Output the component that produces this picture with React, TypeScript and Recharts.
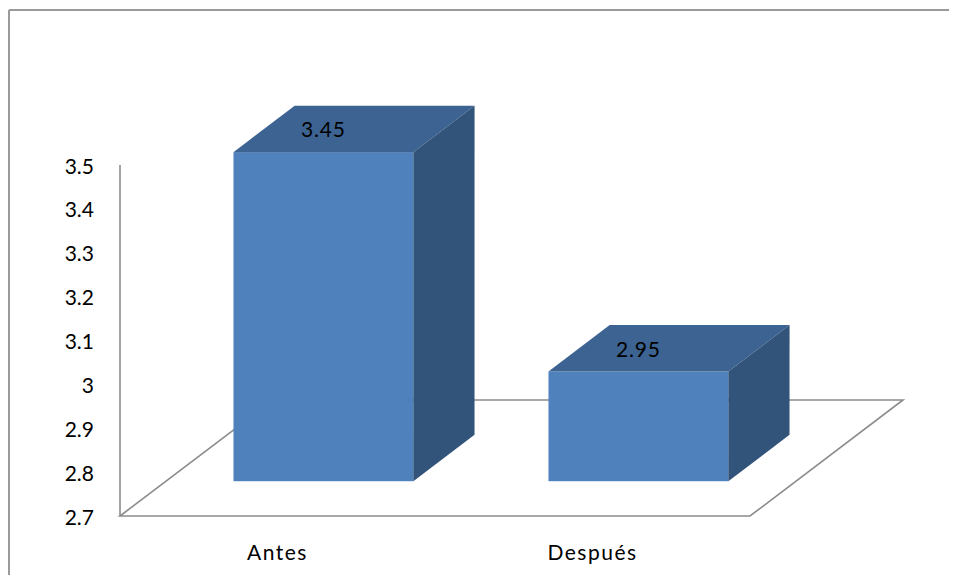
import React from 'react'
import { BarChart, Bar, XAxis, YAxis } from 'recharts'

const CATEGORIES = ['Antes', 'Después']
const VALUES = [3.45, 2.95]
const Y_TICKS = [2.7, 2.8, 2.9, 3.0, 3.1, 3.2, 3.3, 3.4, 3.5]

const data = CATEGORIES.map((name, i) => ({ name, value: VALUES[i] }))

// depth of the 3D floor, in px
const DX = 153
const DY = 116
const FRONT = 0.3 // where the bar front face sits in the floor depth
const BAR_DEPTH = 0.4
const BAR_FRAC = 0.571 // box width as part of the category band

const FONT = 'Lato, "Open Sans", sans-serif'
const AXIS_GRAY = '#8c8c8c'

const Box3D = (props: any) => {
  const { x, y, width, height, value, index, background } = props
  const w = width * BAR_FRAC
  const fx = x + (width - w) / 2 + FRONT * DX
  const fy = y - FRONT * DY
  const fb = y + height - FRONT * DY
  const bx = BAR_DEPTH * DX
  const by = BAR_DEPTH * DY

  // floor drawn once, under the first bar, from the band background
  let floor = null
  if (index === 0 && background) {
    const left = background.x
    const right = background.x + background.width * CATEGORIES.length
    const base = background.y + background.height
    floor = (
      <path
        d={`M${left},${base} L${left + DX},${base - DY} L${right + DX},${base - DY} L${right},${base} Z`}
        fill="none"
        stroke={AXIS_GRAY}
        strokeWidth={1.6}
      />
    )
  }

  return (
    <g>
      {floor}
      <rect x={fx} y={fy} width={w} height={fb - fy} fill="#4f81bd" />
      <polygon
        points={`${fx},${fy} ${fx + w},${fy} ${fx + w + bx},${fy - by} ${fx + bx},${fy - by}`}
        fill="#3c6391"
      />
      <polygon
        points={`${fx + w},${fy} ${fx + w + bx},${fy - by} ${fx + w + bx},${fb - by} ${fx + w},${fb}`}
        fill="#32537a"
      />
      <text
        x={fx + w / 2}
        y={fy - by / 2}
        textAnchor="middle"
        dominantBaseline="central"
        fontFamily={FONT}
        fontSize={21}
        letterSpacing={0.8}
        fill="#000"
      >
        {value}
      </text>
    </g>
  )
}

const YTick = (props: any) => {
  const { y, payload } = props
  return (
    <text
      x={94}
      y={y}
      textAnchor="end"
      dominantBaseline="central"
      fontFamily={FONT}
      fontSize={21}
      fill="#000"
    >
      {String(payload.value)}
    </text>
  )
}

const XTick = (props: any) => {
  const { x, y, payload } = props
  return (
    <text
      x={x}
      y={y + 27}
      textAnchor="middle"
      dominantBaseline="central"
      fontFamily={FONT}
      fontSize={21}
      letterSpacing={1.5}
      fill="#000"
    >
      {payload.value}
    </text>
  )
}

export default function App() {
  return (
    <div style={{ margin: -8, width: 957, height: 583, position: 'relative', overflow: 'hidden', background: '#fff' }}>
      <svg width={957} height={583} style={{ position: 'absolute', left: 0, top: 0 }}>
        <line x1={9} y1={10} x2={957} y2={10} stroke="#9a9a9a" strokeWidth={2} />
        <line x1={9} y1={10} x2={9} y2={580} stroke="#9a9a9a" strokeWidth={2} />
      </svg>
      <div style={{ position: 'absolute', left: 0, top: 0 }}>
        <BarChart
          width={957}
          height={583}
          data={data}
          margin={{ top: 165, right: 207, bottom: 27, left: 60 }}
          barCategoryGap={0}
        >
          <XAxis
            dataKey="name"
            height={40}
            axisLine={false}
            tickLine={false}
            tick={<XTick />}
            interval={0}
          />
          <YAxis
            width={60}
            domain={[2.7, 3.5]}
            ticks={Y_TICKS}
            axisLine={{ stroke: AXIS_GRAY, strokeWidth: 1.6 }}
            tickLine={false}
            tick={<YTick />}
            interval={0}
          />
          <Bar dataKey="value" shape={<Box3D />} isAnimationActive={false} />
        </BarChart>
      </div>
    </div>
  )
}
